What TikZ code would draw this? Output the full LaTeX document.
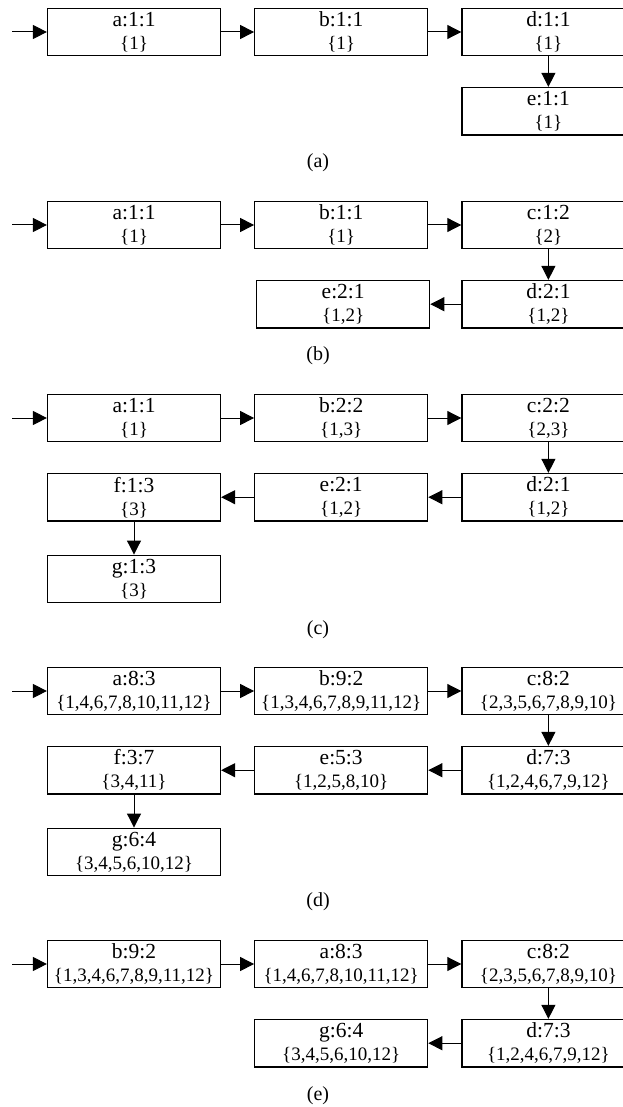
\documentclass[tikz,border=0pt]{standalone}
\usepackage{fontspec}
\setmainfont{Liberation Serif}
\usetikzlibrary{arrows.meta, positioning}
\newcommand{\ids}[1]{{\fontsize{19}{23}\selectfont\{#1\}}}
\tikzset{
  state/.style    = {draw, line width=1.2pt, minimum width=173pt,
                     minimum height=47.5pt, inner sep=0pt, align=center,
                     font=\fontsize{21.5}{23}\selectfont},
  arrow/.style    = {-{Triangle[length=14pt, width=14pt]}, line width=1pt},
  sublabel/.style = {font=\fontsize{20}{24}\selectfont, inner sep=0pt},
}

\begin{document}
\begin{tikzpicture}[x=1pt, y=-1pt, node distance = 30.5pt and 33pt]
  \useasboundingbox (0,0) rectangle (622,1107);

  % (a)
  \node[state] (A-a) at (134,32) {a:1:1\\\ids{1}};
  \node[state, right=of A-a] (A-b) {b:1:1\\\ids{1}};
  \node[state, right=of A-b] (A-d) {d:1:1\\\ids{1}};
  \node[state, below=of A-d] (A-e) {e:1:1\\\ids{1}};
  \coordinate[left=34.5pt of A-a.west] (A-in);
  \node[sublabel] (A-cap) at (318,163) {(a)};
  \foreach \a/\b in {A-in/A-a, A-a/A-b, A-b/A-d, A-d/A-e}
    \draw[arrow] (\a) -- (\b);

  % (b)
  \node[state] (B-a) at (134,225) {a:1:1\\\ids{1}};
  \node[state, right=of B-a] (B-b) {b:1:1\\\ids{1}};
  \node[state, right=of B-b] (B-c) {c:1:2\\\ids{2}};
  \node[state, below=of B-c] (B-d) {d:2:1\\\ids{1,2}};
  \node[state, left=31pt of B-d] (B-e) {e:2:1\\\ids{1,2}};
  \coordinate[left=34.5pt of B-a.west] (B-in);
  \node[sublabel] (B-cap) at (318,356) {(b)};
  \foreach \a/\b in {B-in/B-a, B-a/B-b, B-b/B-c, B-c/B-d, B-d/B-e}
    \draw[arrow] (\a) -- (\b);

  % (c)
  \node[state] (C-a) at (134,418) {a:1:1\\\ids{1}};
  \node[state, right=of C-a] (C-b) {b:2:2\\\ids{1,3}};
  \node[state, right=of C-b] (C-c) {c:2:2\\\ids{2,3}};
  \node[state, below=of C-c] (C-d) {d:2:1\\\ids{1,2}};
  \node[state, left=of C-d]  (C-e) {e:2:1\\\ids{1,2}};
  \node[state, left=of C-e]  (C-f) {f:1:3\\\ids{3}};
  \node[state, below=33pt of C-f] (C-g) {g:1:3\\\ids{3}};
  \coordinate[left=34.5pt of C-a.west] (C-in);
  \node[sublabel] (C-cap) at (318,630) {(c)};
  \foreach \a/\b in {C-in/C-a, C-a/C-b, C-b/C-c, C-c/C-d, C-d/C-e,
                     C-e/C-f, C-f/C-g}
    \draw[arrow] (\a) -- (\b);

  % (d)
  \node[state] (D-a) at (134,691) {a:8:3\\\ids{1,4,6,7,8,10,11,12}};
  \node[state, right=of D-a] (D-b) {b:9:2\\\ids{1,3,4,6,7,8,9,11,12}};
  \node[state, right=of D-b] (D-c) {c:8:2\\\ids{2,3,5,6,7,8,9,10}};
  \node[state, below=of D-c] (D-d) {d:7:3\\\ids{1,2,4,6,7,9,12}};
  \node[state, left=of D-d]  (D-e) {e:5:3\\\ids{1,2,5,8,10}};
  \node[state, left=of D-e]  (D-f) {f:3:7\\\ids{3,4,11}};
  \node[state, below=33pt of D-f] (D-g) {g:6:4\\\ids{3,4,5,6,10,12}};
  \coordinate[left=34.5pt of D-a.west] (D-in);
  \node[sublabel] (D-cap) at (318,902) {(d)};
  \foreach \a/\b in {D-in/D-a, D-a/D-b, D-b/D-c, D-c/D-d, D-d/D-e,
                     D-e/D-f, D-f/D-g}
    \draw[arrow] (\a) -- (\b);

  % (e)
  \node[state] (E-b) at (134,964) {b:9:2\\\ids{1,3,4,6,7,8,9,11,12}};
  \node[state, right=of E-b] (E-a) {a:8:3\\\ids{1,4,6,7,8,10,11,12}};
  \node[state, right=of E-a] (E-c) {c:8:2\\\ids{2,3,5,6,7,8,9,10}};
  \node[state, below=of E-c] (E-d) {d:7:3\\\ids{1,2,4,6,7,9,12}};
  \node[state, left=of E-d]  (E-g) {g:6:4\\\ids{3,4,5,6,10,12}};
  \coordinate[left=34.5pt of E-b.west] (E-in);
  \node[sublabel] (E-cap) at (318,1096) {(e)};
  \foreach \a/\b in {E-in/E-b, E-b/E-a, E-a/E-c, E-c/E-d, E-d/E-g}
    \draw[arrow] (\a) -- (\b);
\end{tikzpicture}
\end{document}
